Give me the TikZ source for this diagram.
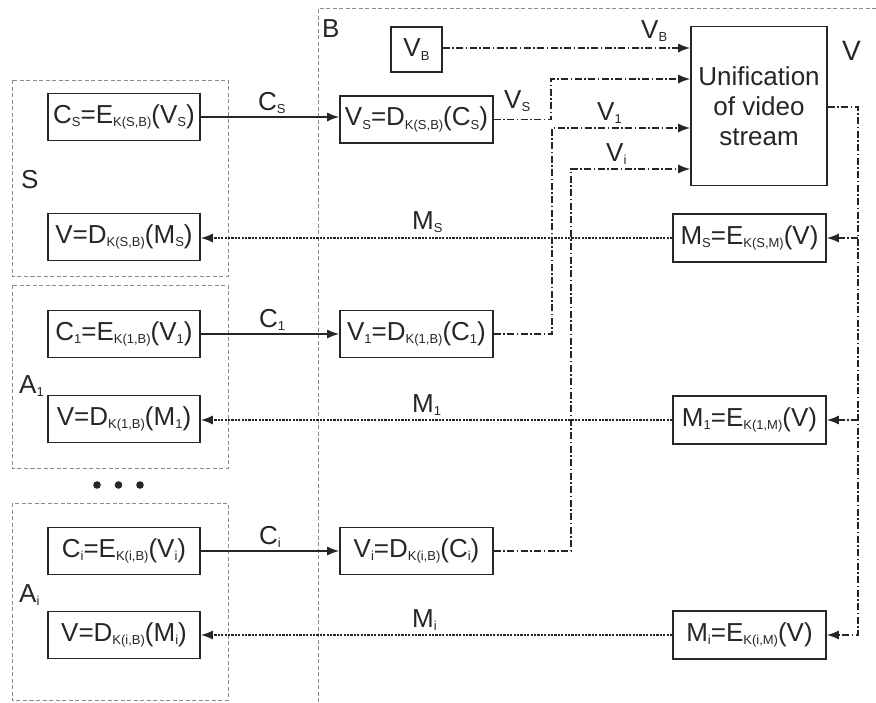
\documentclass[tikz,border=0pt]{standalone}
\usepackage{fontspec}
\setmainfont{Liberation Sans}
\usetikzlibrary{arrows.meta}
\definecolor{ink}{HTML}{262626}
\definecolor{grpc}{HTML}{8A8A8A}
\newcommand\lo[1]{\raisebox{-3.5pt}{\fontsize{13}{13}\selectfont #1}}
\begin{document}
\begin{tikzpicture}[x=1pt,y=-1pt,
  font=\fontsize{26}{30}\selectfont,
  box/.style={draw=ink, line width=1.6pt, text=ink, inner sep=0pt, minimum width=152pt, minimum height=47pt},
  grp/.style={draw=grpc, line width=0.9pt, dash pattern=on 4pt off 2.5pt},
  tipstyle/.style={-{Latex[length=12pt,width=9pt]}},
  solidarr/.style={draw=ink, line width=1.5pt, tipstyle},
  dotarr/.style={draw=ink, line width=1.5pt, dash pattern=on 2.2pt off 1.2pt, tipstyle},
  ddline/.style={draw=ink, line width=1.5pt, dash pattern=on 7pt off 2.5pt on 1.5pt off 2.5pt},
  ddarr/.style={ddline, tipstyle},
  lbl/.style={text=ink, inner sep=0pt, anchor=base west},
]
\useasboundingbox (0,0) rectangle (876,702);

% group frames
\draw[grp] (12,80) rectangle (228,276);
\draw[grp] (12,285) rectangle (228,468);
\draw[grp] (12,503) rectangle (228,700);
\draw[grp] (318,702) -- (318,8) -- (876,8);

% group labels
\node[lbl] (lB) at (322,37) {B};
\node[lbl] (lS) at (21,188) {S};
\node[lbl] (lA1) at (19,393) {A\lo{1}};
\node[lbl] (lAi) at (19,602) {A\lo{i}};
\node[lbl, font=\fontsize{28}{32}\selectfont] (lV) at (842,60) {V};

% left boxes
\node[box] (cs) at (124,117) {C\lo{S}=E\lo{K(S,B)}(V\lo{S})};
\node[box] (ds) at (124,237) {V=D\lo{K(S,B)}(M\lo{S})};
\node[box] (c1) at (124,334) {C\lo{1}=E\lo{K(1,B)}(V\lo{1})};
\node[box] (d1) at (124,419) {V=D\lo{K(1,B)}(M\lo{1})};
\node[box] (ci) at (124,551) {C\lo{i}=E\lo{K(i,B)}(V\lo{i})};
\node[box] (di) at (124,635) {V=D\lo{K(i,B)}(M\lo{i})};

% middle boxes
\node[box, minimum width=153pt] (vs) at (416.5,119.5) {V\lo{S}=D\lo{K(S,B)}(C\lo{S})};
\node[box, minimum width=153pt] (v1) at (416.5,334) {V\lo{1}=D\lo{K(1,B)}(C\lo{1})};
\node[box, minimum width=153pt] (vi) at (416.5,551) {V\lo{i}=D\lo{K(i,B)}(C\lo{i})};
\node[box, minimum width=51pt, minimum height=45pt] (vb) at (416.5,49.5) {V\lo{B}};

% unification
\node[box, minimum width=136pt, minimum height=159pt, align=center] (uni) at (759,106) {Unification\\of video\\stream};

% right boxes
\node[box, minimum width=153pt, minimum height=48pt] (ms) at (749.5,238) {M\lo{S}=E\lo{K(S,M)}(V)};
\node[box, minimum width=153pt, minimum height=48pt] (m1) at (749.5,420) {M\lo{1}=E\lo{K(1,M)}(V)};
\node[box, minimum width=153pt, minimum height=48pt] (mi) at (749.5,635) {M\lo{i}=E\lo{K(i,M)}(V)};

% ellipsis dots
\fill[ink] (97,485) circle (3.8pt) (118.5,485) circle (3.8pt) (140,485) circle (3.8pt);

% C arrows
\draw[solidarr] (cs.east) -- (cs.east -| vs.west);
\draw[solidarr] (c1.east) -- (c1.east -| v1.west);
\draw[solidarr] (ci.east) -- (ci.east -| vi.west);
\node[lbl] (lCs) at (258,110) {C\lo{S}};
\node[lbl] (lC1) at (259,327) {C\lo{1}};
\node[lbl] (lCi) at (259,544) {C\lo{i}};

% M arrows
\draw[dotarr] (ms.west) -- (ms.west -| ds.east);
\draw[dotarr] (m1.west) -- (m1.west -| d1.east);
\draw[dotarr] (mi.west) -- (mi.west -| di.east);
\node[lbl] (lMs) at (412,229) {M\lo{S}};
\node[lbl] (lM1) at (412,412) {M\lo{1}};
\node[lbl] (lMi) at (412,627) {M\lo{i}};

% V streams into unification
\coordinate (bb) at (442,48);
\coordinate (bs) at (551,79);
\coordinate (b1) at (552,128);
\coordinate (bi) at (571,169);
\draw[ddarr] (vb.east |- bb) -- (bb -| uni.west);
\draw[ddarr] (vs.east) -| (bs) -- (bs -| uni.west);
\draw[ddarr] (v1.east) -| (b1) -- (b1 -| uni.west);
\draw[ddarr] (vi.east) -| (bi) -- (bi -| uni.west);
\node[lbl] (lVb) at (641,38) {V\lo{B}};
\node[lbl] (lVs) at (504,108) {V\lo{S}};
\node[lbl] (lV1) at (597,120) {V\lo{1}};
\node[lbl] (lVi) at (606,161) {V\lo{i}};

% output distribution
\coordinate (ob) at (858,107);
\draw[ddarr] (uni.east |- ob) -| (ob |- mi.east) -- (mi.east);
\draw[ddarr] (ob |- ms.east) -- (ms.east);
\draw[ddarr] (ob |- m1.east) -- (m1.east);
\end{tikzpicture}
\end{document}
